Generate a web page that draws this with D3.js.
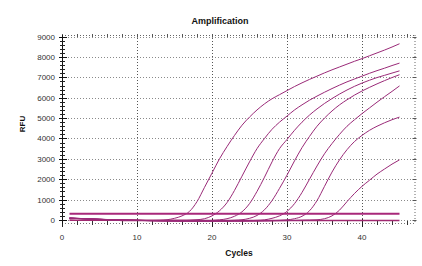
<!DOCTYPE html>
<html><head><meta charset="utf-8">
<script src="https://cdn.jsdelivr.net/npm/d3@7"></script>
<style>
html,body{margin:0;padding:0;background:#fff;}
text{font-family:"Liberation Sans",Arial,sans-serif;}
</style></head>
<body><svg id="c" width="422" height="266"></svg>
<script>
const cycles = [1,2,3,4,5,6,7,8,9,10,11,12,13,14,15,16,17,18,19,20,21,22,23,24,25,26,27,28,29,30,31,32,33,34,35,36,37,38,39,40,41,42,43,44,45];
const well1 = [90,75,60,45,30,18,8,-2,-12,-20,-28,-30,-20,10,80,200,420,900,1600,2300,3000,3600,4150,4650,5050,5400,5700,5950,6150,6350,6550,6730,6900,7060,7220,7370,7510,7650,7790,7920,8060,8200,8340,8490,8650];
const well2 = [85,70,55,42,28,16,6,-4,-14,-22,-30,-36,-40,-44,-46,-40,-20,10,60,200,450,850,1450,2150,2850,3500,4000,4450,4800,5100,5400,5650,5880,6080,6270,6450,6620,6780,6920,7060,7200,7330,7450,7580,7700];
const well3 = [95,80,64,50,35,22,10,0,-10,-18,-26,-32,-37,-41,-45,-48,-50,-48,-40,-25,5,60,180,400,800,1400,2100,2850,3500,3950,4400,4800,5150,5450,5720,5960,6180,6380,6560,6720,6860,6990,7100,7210,7320];
const well4 = [80,66,52,40,26,14,4,-6,-15,-23,-30,-36,-40,-44,-47,-50,-52,-53,-54,-52,-46,-35,-15,10,80,220,500,950,1550,2200,2900,3550,4100,4600,5000,5350,5650,5900,6130,6330,6510,6680,6840,6990,7130];
const well5 = [88,72,58,44,30,18,8,-2,-11,-19,-27,-33,-38,-42,-46,-49,-52,-54,-55,-56,-56,-55,-52,-46,-36,-20,5,80,200,420,800,1350,2000,2650,3250,3750,4200,4600,4920,5220,5500,5780,6050,6310,6580];
const well6 = [92,78,62,48,34,20,10,0,-9,-17,-25,-31,-36,-40,-44,-47,-50,-52,-54,-55,-56,-56,-56,-55,-54,-50,-44,-34,-18,5,60,180,450,950,1650,2350,2950,3450,3850,4150,4400,4600,4770,4920,5050];
const well7 = [86,70,56,42,28,16,6,-4,-13,-21,-28,-34,-39,-43,-46,-49,-51,-53,-55,-56,-57,-57,-57,-56,-55,-53,-50,-46,-40,-32,-22,-10,-2,10,60,200,480,900,1300,1650,1950,2250,2500,2740,2950];
const negControl = [-10,-12,-14,-15,-16,-18,-18,-19,-20,-20,-21,-21,-22,-22,-22,-23,-23,-23,-24,-24,-24,-24,-25,-25,-25,-25,-25,-25,-26,-26,-26,-26,-26,-26,-27,-27,-27,-27,-27,-27,-28,-28,-28,-28,-28];
const threshold = 300;
const xTicks = [0,10,20,30,40];
const yTicks = [0,1000,2000,3000,4000,5000,6000,7000,8000,9000];
const title = "Amplification", xTitle = "Cycles", yTitle = "RFU";

const wells = [well1,well2,well3,well4,well5,well6,well7];
const svg = d3.select("#c");
const L=62, R=414.5, T=35, B=223;
const x = d3.scaleLinear().domain([0,47]).range([L,R]);
const y = d3.scaleLinear().domain([-150,9080]).range([B,T]);

// grid
const g = svg.append("g");
g.selectAll(".hg").data(yTicks).join("line")
  .attr("x1",L).attr("x2",R).attr("y1",d=>Math.round(y(d))+0.5).attr("y2",d=>Math.round(y(d))+0.5)
  .attr("stroke","#8a8a8a").attr("stroke-dasharray","1,2");
g.selectAll(".vg").data(xTicks.filter(d=>d>0)).join("line")
  .attr("y1",T).attr("y2",B).attr("x1",d=>Math.round(x(d))+0.5).attr("x2",d=>Math.round(x(d))+0.5)
  .attr("stroke","#555").attr("stroke-dasharray","1,2");

// border (top, right, bottom) dotted
g.append("line").attr("x1",L).attr("x2",R).attr("y1",T+0.5).attr("y2",T+0.5).attr("stroke","#666").attr("stroke-dasharray","1,2");
g.append("line").attr("x1",R+0.5).attr("x2",R+0.5).attr("y1",T).attr("y2",B).attr("stroke","#666").attr("stroke-dasharray","1,2");
g.append("line").attr("x1",L).attr("x2",R).attr("y1",B+0.5).attr("y2",B+0.5).attr("stroke","#777").attr("stroke-dasharray","1,2");

// minor ticks x (bottom & top)
const xMinor = d3.range(0,47,2);
g.selectAll(".xm").data(xMinor).join("line")
  .attr("x1",d=>Math.round(x(d))+0.5).attr("x2",d=>Math.round(x(d))+0.5)
  .attr("y1",B-2).attr("y2",B+2).attr("stroke","#333");
g.selectAll(".xmt").data(xMinor).join("line")
  .attr("x1",d=>Math.round(x(d))+0.5).attr("x2",d=>Math.round(x(d))+0.5)
  .attr("y1",T-1).attr("y2",T+2).attr("stroke","#555");
g.selectAll(".xM").data(xTicks).join("line")
  .attr("x1",d=>Math.round(x(d))+0.5).attr("x2",d=>Math.round(x(d))+0.5)
  .attr("y1",B-4).attr("y2",B+4).attr("stroke","#222");
// y ticks right border
g.selectAll(".yr").data(yTicks).join("line")
  .attr("x1",R-2).attr("x2",R+2).attr("y1",d=>Math.round(y(d))+0.5).attr("y2",d=>Math.round(y(d))+0.5).attr("stroke","#555");

// left axis solid
const yMinor = d3.range(0,9001,200);
g.append("line").attr("x1",L+0.5).attr("x2",L+0.5).attr("y1",T).attr("y2",B+1).attr("stroke","#111");
g.selectAll(".ym").data(yMinor).join("line")
  .attr("x1",L-2).attr("x2",L+3).attr("y1",d=>Math.round(y(d))+0.5).attr("y2",d=>Math.round(y(d))+0.5).attr("stroke","#222");
g.selectAll(".yM").data(yTicks).join("line")
  .attr("x1",L-3).attr("x2",L+5).attr("y1",d=>Math.round(y(d))+0.5).attr("y2",d=>Math.round(y(d))+0.5).attr("stroke","#111");

// labels
svg.selectAll(".yl").data(yTicks).join("text")
  .attr("x",55).attr("y",d=>y(d)+3).attr("text-anchor","end")
  .attr("font-size",8).attr("fill","#333").text(d=>d);
svg.selectAll(".xl").data(xTicks).join("text")
  .attr("x",d=>x(d)).attr("y",240).attr("text-anchor","middle")
  .attr("font-size",8).attr("fill","#333").text(d=>d);
svg.append("text").attr("x",220).attr("y",24).attr("text-anchor","middle")
  .attr("font-size",9).attr("font-weight","bold").attr("fill","#111").text(title);
svg.append("text").attr("x",239).attr("y",256).attr("text-anchor","middle")
  .attr("font-size",8.5).attr("font-weight","bold").attr("fill","#111").text(xTitle);
svg.append("text").attr("transform","translate(25,124) rotate(-90)").attr("text-anchor","middle")
  .attr("font-size",8).attr("font-weight","bold").attr("fill","#111").text(yTitle);

// data lines
const line = d3.line().x((d,i)=>x(cycles[i])).y(d=>y(d)).curve(d3.curveMonotoneX);
svg.append("path").attr("d",line(negControl)).attr("fill","none").attr("stroke","#a02a70").attr("stroke-width",1.6);
svg.selectAll(".w").data(wells).join("path")
  .attr("d",line).attr("fill","none").attr("stroke","#9a2a78").attr("stroke-width",1);
svg.append("line").attr("x1",x(cycles[0])).attr("x2",x(cycles[cycles.length-1]))
  .attr("y1",y(threshold)).attr("y2",y(threshold)).attr("stroke","#a8287a").attr("stroke-width",2);
</script></body></html>
